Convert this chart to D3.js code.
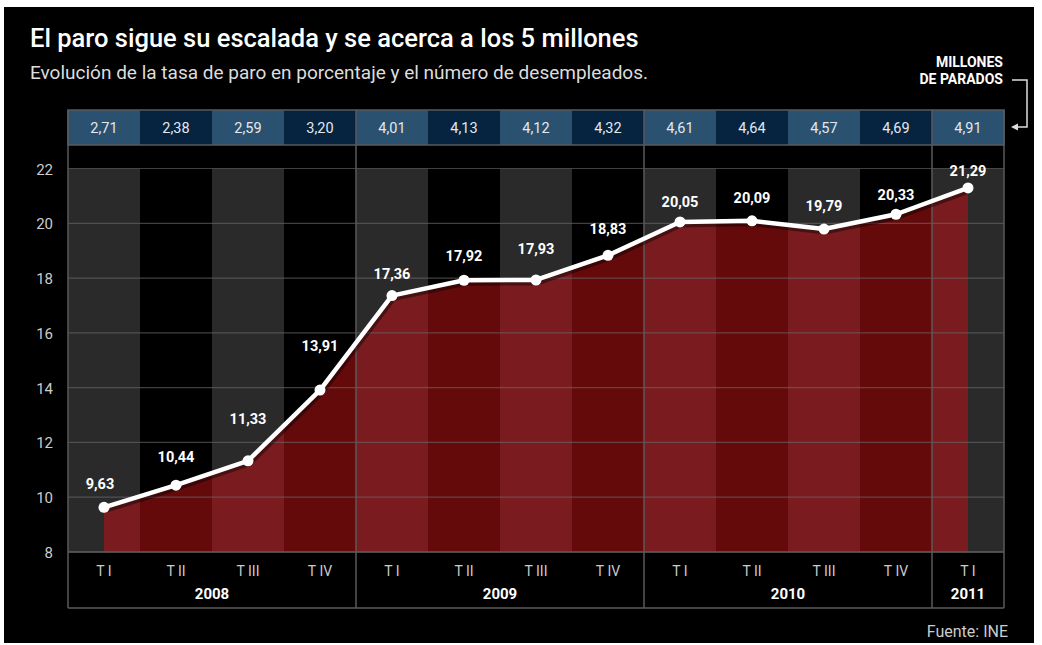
<!DOCTYPE html>
<html><head><meta charset="utf-8">
<script src="https://cdn.jsdelivr.net/npm/d3@7"></script>
<style>body{margin:0;background:#fff}svg{display:block}</style>
</head><body>
<svg id="c" width="1042" height="645"></svg>
<script>
const quarters = ["T I","T II","T III","T IV","T I","T II","T III","T IV","T I","T II","T III","T IV","T I"];
const years = [{label:"2008",n:4},{label:"2009",n:4},{label:"2010",n:4},{label:"2011",n:1}];
const tasa = [9.63,10.44,11.33,13.91,17.36,17.92,17.93,18.83,20.05,20.09,19.79,20.33,21.29];
const parados = [2.71,2.38,2.59,3.20,4.01,4.13,4.12,4.32,4.61,4.64,4.57,4.69,4.91];
const yTicks = [8,10,12,14,16,18,20,22];
// label vertical nudges (style)
const labelDy = [-18,-23,-37,-39,-17,-19,-26,-21,-15,-18,-18,-14,-12];
const fmt = v => d3.format(".2f")(v).replace(".", ",");

const svg = d3.select("#c");
const F = "Roboto, 'Liberation Sans', sans-serif";
svg.append("rect").attr("x",4).attr("y",7).attr("width",1030).attr("height",636).attr("fill","#000");

const idx = d3.range(quarters.length);
const x = d3.scaleBand().domain(idx).range([68,1004]).padding(0);
const y = d3.scaleLinear().domain([8,22]).range([552,168.5]);
const cx = i => x(i) + x.bandwidth()/2;

// Title
svg.append("text").attr("x",30).attr("y",47).attr("fill","#fff").attr("font-family",F)
  .attr("font-size",25.5).attr("font-weight",500).text("El paro sigue su escalada y se acerca a los 5 millones");
svg.append("text").attr("x",30).attr("y",79).attr("fill","#ddd").attr("font-family",F)
  .attr("font-size",19).text("Evolución de la tasa de paro en porcentaje y el número de desempleados.");

// Blue row
const g = svg.append("g");
g.selectAll("rect.b").data(idx).join("rect").attr("x",i=>x(i)).attr("y",110).attr("width",x.bandwidth()).attr("height",35)
  .attr("fill",i=>i%2===0?"#2b5170":"#062340");
g.selectAll("text.b").data(idx).join("text").attr("x",cx).attr("y",133).attr("text-anchor","middle")
  .attr("fill","#e4e8ee").attr("font-family",F).attr("font-size",14.5).text(i=>fmt(parados[i]));

// plot column backgrounds
g.selectAll("rect.col").data(idx).join("rect").attr("x",i=>x(i)).attr("y",y(22)).attr("width",x.bandwidth()).attr("height",y(8)-y(22))
  .attr("fill",i=>i%2===0?"#2a2a2a":"#000");

// area per column
const area = d3.area().x(d=>d[0]).y0(y(8)).y1(d=>d[1]);
const yAt = xx => {
  for (let k=0;k<tasa.length-1;k++){
    if (xx>=cx(k) && xx<=cx(k+1)){ const t=(xx-cx(k))/(cx(k+1)-cx(k)); return y(tasa[k]+(tasa[k+1]-tasa[k])*t); }
  }
  return y(tasa[tasa.length-1]);
};
idx.forEach(i=>{
  const x0 = Math.max(x(i), cx(0)), x1 = Math.min(x(i)+x.bandwidth(), cx(quarters.length-1));
  const pts = [[x0,yAt(x0)]];
  if (cx(i)>x0 && cx(i)<x1) pts.push([cx(i),y(tasa[i])]);
  pts.push([x1,yAt(x1)]);
  g.append("path").attr("d",area(pts)).attr("fill",i%2===0?"#7a1b1f":"#640a0b");
});

// gridlines
g.selectAll("line.grid").data(yTicks).join("line").attr("x1",68).attr("x2",1004).attr("y1",d=>y(d)).attr("y2",d=>y(d))
  .attr("stroke","#6a6a6a").attr("stroke-opacity",0.6).attr("stroke-width",1.2);

// y labels
g.selectAll("text.yl").data(yTicks).join("text").attr("x",53).attr("y",d=>y(d)+6).attr("text-anchor","end")
  .attr("fill","#ccc").attr("font-family",F).attr("font-size",15).text(d=>d);

// frames
const stroke="#5a5a5a";
g.append("rect").attr("x",68).attr("y",110).attr("width",936).attr("height",35).attr("fill","none").attr("stroke",stroke).attr("stroke-width",1.5);
g.append("line").attr("x1",68).attr("x2",68).attr("y1",110).attr("y2",608).attr("stroke",stroke).attr("stroke-width",1.5);
g.append("line").attr("x1",1004).attr("x2",1004).attr("y1",110).attr("y2",608).attr("stroke",stroke).attr("stroke-width",1.5);
g.append("line").attr("x1",68).attr("x2",1004).attr("y1",608).attr("y2",608).attr("stroke",stroke).attr("stroke-width",1.5);
g.append("line").attr("x1",68).attr("x2",1004).attr("y1",552).attr("y2",552).attr("stroke",stroke).attr("stroke-width",1.5);
let acc=0;
const yearPos = years.map(yy=>{const s=acc; acc+=yy.n; return {label:yy.label,s,e:acc};});
yearPos.slice(1).forEach(p=>{
  g.append("line").attr("x1",x(p.s)).attr("x2",x(p.s)).attr("y1",110).attr("y2",608).attr("stroke",stroke).attr("stroke-width",1.5);
});

// bottom labels
g.selectAll("text.q").data(idx).join("text").attr("x",cx).attr("y",576).attr("text-anchor","middle")
  .attr("fill","#ccc").attr("font-family",F).attr("font-size",14).text(i=>quarters[i]);
g.selectAll("text.yr").data(yearPos).join("text").attr("x",p=>(x(p.s)+x(p.e-1)+x.bandwidth())/2).attr("y",599)
  .attr("text-anchor","middle").attr("fill","#fff").attr("font-family",F).attr("font-size",15).attr("font-weight",700).text(p=>p.label);

// line
const line = d3.line().x((d,i)=>cx(i)).y(d=>y(d));
g.append("path").datum(tasa).attr("d",line).attr("fill","none").attr("stroke","#000").attr("stroke-opacity",0.4)
  .attr("stroke-width",7).attr("transform","translate(1,2)");
g.append("path").datum(tasa).attr("d",line).attr("fill","none").attr("stroke","#fff").attr("stroke-width",4.5).attr("stroke-linejoin","round");
g.selectAll("circle").data(tasa).join("circle").attr("cx",(d,i)=>cx(i)).attr("cy",d=>y(d)).attr("r",5.5).attr("fill","#fff");
g.selectAll("text.val").data(tasa).join("text").attr("x",(d,i)=>cx(i)-(i===0?4:0)).attr("y",(d,i)=>y(d)+labelDy[i]).attr("text-anchor","middle")
  .attr("fill","#fff").attr("font-family",F).attr("font-size",14.5).attr("font-weight",700).text(d=>fmt(d));

// Millones de parados
svg.append("text").attr("x",1003).attr("y",67).attr("text-anchor","end").attr("fill","#fff").attr("font-family",F)
  .attr("font-size",14).attr("font-weight",700).text("MILLONES");
svg.append("text").attr("x",1003).attr("y",84).attr("text-anchor","end").attr("fill","#fff").attr("font-family",F)
  .attr("font-size",14).attr("font-weight",700).text("DE PARADOS");
svg.append("path").attr("d","M1012,80 H1027 V127 H1016").attr("fill","none").attr("stroke","#ddd").attr("stroke-width",1.5);
svg.append("path").attr("d","M1011,127 L1018,123.5 L1018,130.5 Z").attr("fill","#ddd");

svg.append("text").attr("x",1008).attr("y",637).attr("text-anchor","end").attr("fill","#ccc").attr("font-family",F)
  .attr("font-size",16).text("Fuente: INE");
</script>
</body></html>
